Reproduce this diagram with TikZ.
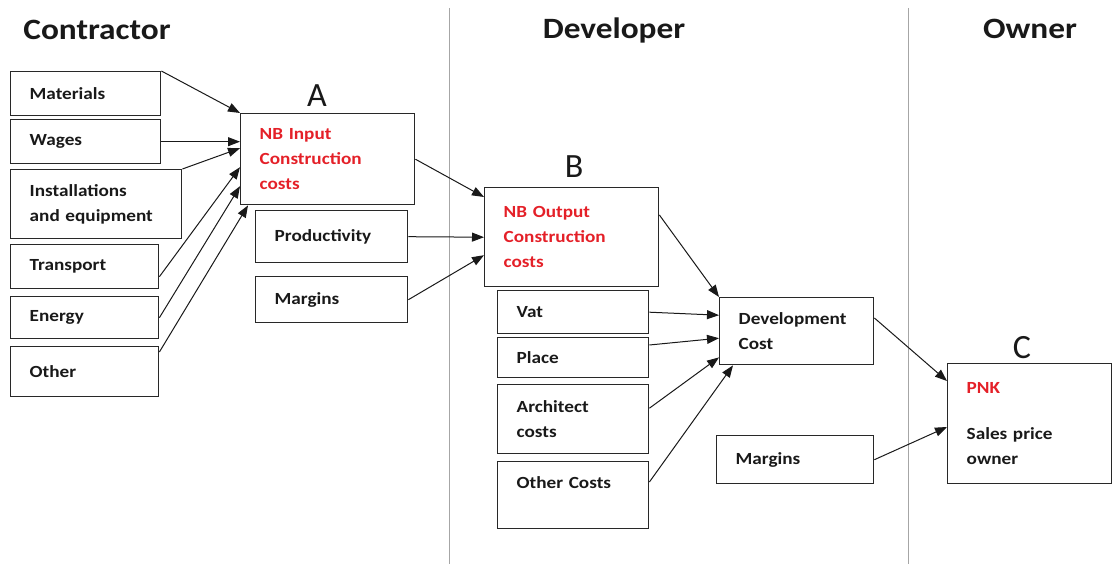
\documentclass[tikz,border=0pt]{standalone}
\usepackage{fontspec}
\setmainfont{Carlito}[FakeStretch=1.13]
\newfontfamily\lblfont{Carlito}
\usetikzlibrary{arrows.meta}
\definecolor{nbred}{RGB}{228,32,40}
\definecolor{frame}{RGB}{40,40,40}
\definecolor{ink}{RGB}{25,25,25}
\begin{document}
\begin{tikzpicture}[x=1pt,y=-1pt,
  bx/.style={draw=frame, line width=1.4pt, rectangle, anchor=north west,
    inner xsep=19pt, inner ysep=0pt, align=left, text=ink,
    font=\fontsize{17}{25}\selectfont\bfseries},
  arr/.style={-{Triangle[length=12pt,width=9pt]}, line width=1pt, ink},
  hdr/.style={font=\fontsize{29.5}{31}\selectfont\bfseries, text=ink},
  lbl/.style={font=\lblfont\fontsize{34}{36}\selectfont, text=ink},
  sepline/.style={draw=gray!70, line width=1pt}]
\useasboundingbox (0,0) rectangle (1112,564);

% separators
\coordinate (s1t) at (449,8); \coordinate (s1b) at (449,564);
\coordinate (s2t) at (908,8); \coordinate (s2b) at (908,564);
\draw[sepline] (s1t) -- (s1b);
\draw[sepline] (s2t) -- (s2b);

% headers
\node[hdr] (hc) at (97,30) {Contractor};
\node[hdr] (hd) at (614,30) {Developer};
\node[hdr] (ho) at (1030,29) {Owner};

% labels
\node[lbl] (la) at (317,96) {A};
\node[lbl] (lb) at (574,167) {B};
\node[lbl] (lc) at (1022,348) {C};

% contractor inputs
\node[bx, text width=112pt, minimum height=44pt] (mat) at (10,71) {Materials};
\node[bx, text width=112pt, minimum height=44pt] (wag) at (10,119) {Wages};
\node[bx, text width=133pt, minimum height=69pt] (inst) at (10,169) {Installations\\and equipment};
\node[bx, text width=110pt, minimum height=44pt] (tra) at (10,244) {Transport};
\node[bx, text width=110pt, minimum height=42pt] (ene) at (10,296) {Energy};
\node[bx, text width=110pt, minimum height=50pt] (oth) at (10,346) {Other};

% A
\node[bx, text width=136pt, minimum height=91pt, text=nbred] (A) at (240,113) {NB Input\\Construction\\costs};
\node[bx, text width=114pt, minimum height=52pt] (prod) at (255,210) {Productivity};
\node[bx, text width=114pt, minimum height=46pt] (mar1) at (255,276) {Margins};

% B
\node[bx, text width=136pt, minimum height=99pt, text=nbred] (B) at (484,187) {NB Output\\Construction\\costs};
\node[bx, text width=113pt, minimum height=43pt] (vat) at (497,290) {Vat};
\node[bx, text width=113pt, minimum height=40pt] (pla) at (497,337) {Place};
\node[bx, text width=113pt, minimum height=69pt] (arc) at (497,384) {Architect\\costs};
\node[bx, text width=113pt, minimum height=67pt] (othc) at (497,461) {Other Costs\\\mbox{}};

% development
\node[bx, text width=116pt, minimum height=67pt] (dev) at (719,297) {Development\\Cost};
\node[bx, text width=119pt, minimum height=48pt] (mar2) at (716,435) {Margins};

% C
\node[bx, text width=126pt, minimum height=120pt] (C) at (947,363) {\textcolor{nbred}{PNK}\\[21pt]Sales price\\owner};

% arrows into A
\draw[arr] (mat.north east) -- (A.north west);
\draw[arr] (wag.east) -- ([yshift=17.5pt]A.west);
\draw[arr] (inst.north east) -- ([yshift=11pt]A.west);
\draw[arr] ([yshift=-10pt]tra.east) -- ([yshift=-8pt]A.west);
\draw[arr] (ene.east) -- ([yshift=-27pt]A.west);
\draw[arr] ([yshift=-6pt]oth.north east) -- ([xshift=8pt]A.south west);

% arrows into B
\draw[arr] (A.east) -- ([yshift=-10pt]B.north west);
\draw[arr] (prod.east) -- (B.west);
\draw[arr] (mar1.east) -- ([yshift=-18pt]B.west);

% arrows into development
\draw[arr] ([yshift=-28pt]B.north east) -- (dev.north west);
\draw[arr] (vat.east) -- ([yshift=16pt]dev.west);
\draw[arr] ([yshift=-8pt]pla.north east) -- ([yshift=-7pt]dev.west);
\draw[arr] ([yshift=11pt]arc.east) -- ([yshift=8pt]dev.south west);
\draw[arr] ([yshift=-21pt]othc.north east) -- ([xshift=14pt]dev.south west);

% arrows into C
\draw[arr] ([yshift=-21pt]dev.north east) -- ([yshift=-18pt]C.north west);
\draw[arr] (mar2.east) -- ([yshift=-64pt]C.north west);
\end{tikzpicture}
\end{document}
